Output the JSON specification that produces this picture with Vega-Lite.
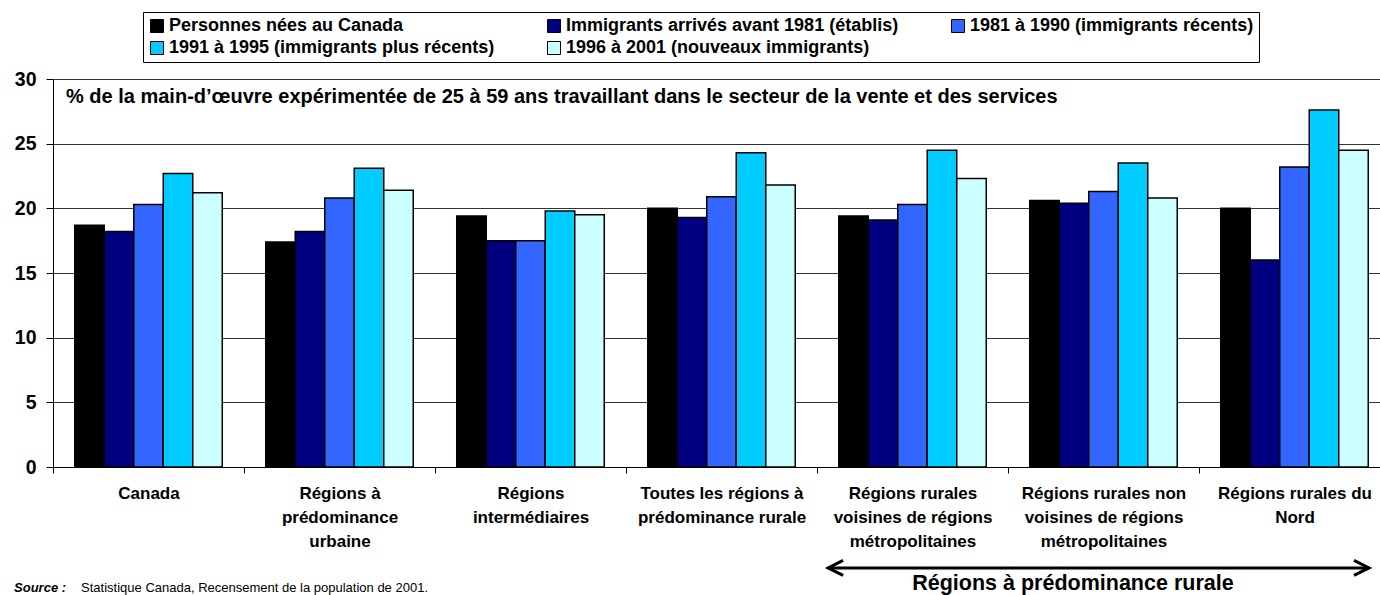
{
  "$schema": "https://vega.github.io/schema/vega-lite/v6.json",
  "width": 1327,
  "height": 388,
  "autosize": {"type": "none"},
  "padding": {"left": 53, "top": 79, "right": 0, "bottom": 128},
  "background": "#ffffff",
  "config": {
    "view": {"stroke": null},
    "font": "Liberation Sans",
    "text": {"font": "Liberation Sans", "color": "#000000"}
  },
  "layer": [
    {
      "data": {
        "values": [
          {"region": "Canada", "groupe": "Personnes nées au Canada", "pct": 18.7},
          {"region": "Canada", "groupe": "Immigrants arrivés avant 1981 (établis)", "pct": 18.2},
          {"region": "Canada", "groupe": "1981 à 1990 (immigrants récents)", "pct": 20.3},
          {"region": "Canada", "groupe": "1991 à 1995 (immigrants plus récents)", "pct": 22.7},
          {"region": "Canada", "groupe": "1996 à 2001 (nouveaux immigrants)", "pct": 21.2},
          {"region": "Régions à prédominance urbaine", "groupe": "Personnes nées au Canada", "pct": 17.4},
          {"region": "Régions à prédominance urbaine", "groupe": "Immigrants arrivés avant 1981 (établis)", "pct": 18.2},
          {"region": "Régions à prédominance urbaine", "groupe": "1981 à 1990 (immigrants récents)", "pct": 20.8},
          {"region": "Régions à prédominance urbaine", "groupe": "1991 à 1995 (immigrants plus récents)", "pct": 23.1},
          {"region": "Régions à prédominance urbaine", "groupe": "1996 à 2001 (nouveaux immigrants)", "pct": 21.4},
          {"region": "Régions intermédiaires", "groupe": "Personnes nées au Canada", "pct": 19.4},
          {"region": "Régions intermédiaires", "groupe": "Immigrants arrivés avant 1981 (établis)", "pct": 17.5},
          {"region": "Régions intermédiaires", "groupe": "1981 à 1990 (immigrants récents)", "pct": 17.5},
          {"region": "Régions intermédiaires", "groupe": "1991 à 1995 (immigrants plus récents)", "pct": 19.8},
          {"region": "Régions intermédiaires", "groupe": "1996 à 2001 (nouveaux immigrants)", "pct": 19.5},
          {"region": "Toutes les régions à prédominance rurale", "groupe": "Personnes nées au Canada", "pct": 20.0},
          {"region": "Toutes les régions à prédominance rurale", "groupe": "Immigrants arrivés avant 1981 (établis)", "pct": 19.3},
          {"region": "Toutes les régions à prédominance rurale", "groupe": "1981 à 1990 (immigrants récents)", "pct": 20.9},
          {"region": "Toutes les régions à prédominance rurale", "groupe": "1991 à 1995 (immigrants plus récents)", "pct": 24.3},
          {"region": "Toutes les régions à prédominance rurale", "groupe": "1996 à 2001 (nouveaux immigrants)", "pct": 21.8},
          {"region": "Régions rurales voisines de régions métropolitaines", "groupe": "Personnes nées au Canada", "pct": 19.4},
          {"region": "Régions rurales voisines de régions métropolitaines", "groupe": "Immigrants arrivés avant 1981 (établis)", "pct": 19.1},
          {"region": "Régions rurales voisines de régions métropolitaines", "groupe": "1981 à 1990 (immigrants récents)", "pct": 20.3},
          {"region": "Régions rurales voisines de régions métropolitaines", "groupe": "1991 à 1995 (immigrants plus récents)", "pct": 24.5},
          {"region": "Régions rurales voisines de régions métropolitaines", "groupe": "1996 à 2001 (nouveaux immigrants)", "pct": 22.3},
          {"region": "Régions rurales non voisines de régions métropolitaines", "groupe": "Personnes nées au Canada", "pct": 20.6},
          {"region": "Régions rurales non voisines de régions métropolitaines", "groupe": "Immigrants arrivés avant 1981 (établis)", "pct": 20.4},
          {"region": "Régions rurales non voisines de régions métropolitaines", "groupe": "1981 à 1990 (immigrants récents)", "pct": 21.3},
          {"region": "Régions rurales non voisines de régions métropolitaines", "groupe": "1991 à 1995 (immigrants plus récents)", "pct": 23.5},
          {"region": "Régions rurales non voisines de régions métropolitaines", "groupe": "1996 à 2001 (nouveaux immigrants)", "pct": 20.8},
          {"region": "Régions rurales du Nord", "groupe": "Personnes nées au Canada", "pct": 20.0},
          {"region": "Régions rurales du Nord", "groupe": "Immigrants arrivés avant 1981 (établis)", "pct": 16.0},
          {"region": "Régions rurales du Nord", "groupe": "1981 à 1990 (immigrants récents)", "pct": 23.2},
          {"region": "Régions rurales du Nord", "groupe": "1991 à 1995 (immigrants plus récents)", "pct": 27.6},
          {"region": "Régions rurales du Nord", "groupe": "1996 à 2001 (nouveaux immigrants)", "pct": 24.5}
        ]
      },
      "mark": {"type": "bar", "stroke": "#000000", "strokeWidth": 1.5},
      "encoding": {
        "x": {
          "field": "region",
          "type": "nominal",
          "sort": null,
          "title": null,
          "scale": {
            "domain": ["Canada", "Régions à prédominance urbaine", "Régions intermédiaires", "Toutes les régions à prédominance rurale", "Régions rurales voisines de régions métropolitaines", "Régions rurales non voisines de régions métropolitaines", "Régions rurales du Nord"],
            "range": [0, 1337],
            "paddingInner": 0,
            "paddingOuter": 0
          },
          "axis": {
            "title": null,
            "tickBand": "extent",
            "labelAngle": 0,
            "labelFont": "Liberation Sans",
            "labelFontSize": 17,
            "labelFontWeight": "bold",
            "labelColor": "#000000",
            "labelLineHeight": 24,
            "labelPadding": 12,
            "labelLimit": 0,
            "labelOverlap": false,
            "labelBaseline": "top",
            "tickSize": 6,
            "tickColor": "#000000",
            "domainColor": "#000000",
            "domainWidth": 1,
            "grid": false,
            "labelExpr": "datum.value == 'Régions à prédominance urbaine' ? ['Régions à', 'prédominance', 'urbaine'] : datum.value == 'Régions intermédiaires' ? ['Régions', 'intermédiaires'] : datum.value == 'Toutes les régions à prédominance rurale' ? ['Toutes les régions à', 'prédominance rurale'] : datum.value == 'Régions rurales voisines de régions métropolitaines' ? ['Régions rurales', 'voisines de régions', 'métropolitaines'] : datum.value == 'Régions rurales non voisines de régions métropolitaines' ? ['Régions rurales non', 'voisines de régions', 'métropolitaines'] : datum.value == 'Régions rurales du Nord' ? ['Régions rurales du', 'Nord'] : datum.value"
          }
        },
        "xOffset": {
          "field": "groupe",
          "type": "nominal",
          "sort": null,
          "scale": {
            "domain": ["Personnes nées au Canada", "Immigrants arrivés avant 1981 (établis)", "1981 à 1990 (immigrants récents)", "1991 à 1995 (immigrants plus récents)", "1996 à 2001 (nouveaux immigrants)"],
            "paddingInner": 0,
            "paddingOuter": 0.737
          }
        },
        "y": {
          "field": "pct",
          "type": "quantitative",
          "title": null,
          "scale": {"domain": [0, 30], "nice": false, "zero": true},
          "axis": {
            "title": null,
            "values": [0, 5, 10, 15, 20, 25, 30],
            "labelFont": "Liberation Sans",
            "labelFontSize": 19.5,
            "labelFontWeight": "bold",
            "labelColor": "#000000",
            "labelPadding": 10,
            "tickSize": 7,
            "tickColor": "#000000",
            "domainColor": "#000000",
            "grid": true,
            "gridColor": "#333333",
            "gridWidth": 1
          }
        },
        "color": {
          "field": "groupe",
          "type": "nominal",
          "sort": null,
          "scale": {
            "domain": ["Personnes nées au Canada", "Immigrants arrivés avant 1981 (établis)", "1981 à 1990 (immigrants récents)", "1991 à 1995 (immigrants plus récents)", "1996 à 2001 (nouveaux immigrants)"],
            "range": ["#000000", "#000080", "#3366FF", "#00CCFF", "#CCFFFF"]
          },
          "legend": {
            "title": null,
            "orient": "none",
            "legendX": 90,
            "legendY": -67,
            "direction": "horizontal",
            "columns": 3,
            "strokeColor": "#000000",
            "padding": 5,
            "columnPadding": 50,
            "rowPadding": 4,
            "labelFont": "Liberation Sans",
            "labelFontSize": 18,
            "labelFontWeight": "bold",
            "labelColor": "#000000",
            "labelLimit": 0,
            "labelOffset": 3,
            "symbolType": "square",
            "symbolSize": 169,
            "symbolStrokeColor": "#000000",
            "symbolStrokeWidth": 1,
            "symbolOpacity": 1
          }
        }
      }
    },
    {
      "data": {"values": [{"txt": "% de la main-d’œuvre expérimentée de 25 à 59 ans travaillant dans le secteur de la vente et des services"}]},
      "mark": {"type": "text", "align": "left", "baseline": "alphabetic", "font": "Liberation Sans", "fontSize": 20, "fontWeight": "bold", "color": "#000000"},
      "encoding": {
        "x": {"datum": "Canada", "bandPosition": 0.068},
        "y": {"datum": 28.17, "type": "quantitative"},
        "text": {"field": "txt"}
      }
    },
    {
      "data": {"values": [{}]},
      "mark": {"type": "rule", "color": "#000000", "strokeWidth": 3},
      "encoding": {
        "x": {"datum": "Régions rurales voisines de régions métropolitaines", "bandPosition": 0.058},
        "x2": {"datum": "Régions rurales du Nord", "bandPosition": 0.89},
        "y": {"datum": -7.8, "type": "quantitative"}
      }
    },
    {
      "data": {"values": [{}]},
      "mark": {"type": "point", "shape": "M2,-1L0,0L2,1", "size": 225, "filled": false, "color": "#000000", "strokeWidth": 3, "opacity": 1},
      "encoding": {
        "x": {"datum": "Régions rurales voisines de régions métropolitaines", "bandPosition": 0.058},
        "y": {"datum": -7.8, "type": "quantitative"}
      }
    },
    {
      "data": {"values": [{}]},
      "mark": {"type": "point", "shape": "M-2,-1L0,0L-2,1", "size": 225, "filled": false, "color": "#000000", "strokeWidth": 3, "opacity": 1},
      "encoding": {
        "x": {"datum": "Régions rurales du Nord", "bandPosition": 0.89},
        "y": {"datum": -7.8, "type": "quantitative"}
      }
    },
    {
      "data": {"values": [{"txt": "Régions à prédominance rurale"}]},
      "mark": {"type": "text", "align": "center", "baseline": "alphabetic", "font": "Liberation Sans", "fontSize": 21.5, "fontWeight": "bold", "color": "#000000"},
      "encoding": {
        "x": {"datum": "Régions rurales non voisines de régions métropolitaines", "bandPosition": 0.34},
        "y": {"datum": -9.5, "type": "quantitative"},
        "text": {"field": "txt"}
      }
    },
    {
      "data": {"values": [{"txt": "Source :"}]},
      "mark": {"type": "text", "align": "left", "baseline": "alphabetic", "font": "Liberation Sans", "fontSize": 13, "fontWeight": "bold", "fontStyle": "italic", "color": "#000000"},
      "encoding": {
        "x": {"datum": "Canada", "bandPosition": -0.204},
        "y": {"datum": -9.65, "type": "quantitative"},
        "text": {"field": "txt"}
      }
    },
    {
      "data": {"values": [{"txt": "Statistique Canada, Recensement de la population de 2001."}]},
      "mark": {"type": "text", "align": "left", "baseline": "alphabetic", "font": "Liberation Sans", "fontSize": 13, "color": "#000000"},
      "encoding": {
        "x": {"datum": "Canada", "bandPosition": 0.147},
        "y": {"datum": -9.65, "type": "quantitative"},
        "text": {"field": "txt"}
      }
    }
  ]
}
